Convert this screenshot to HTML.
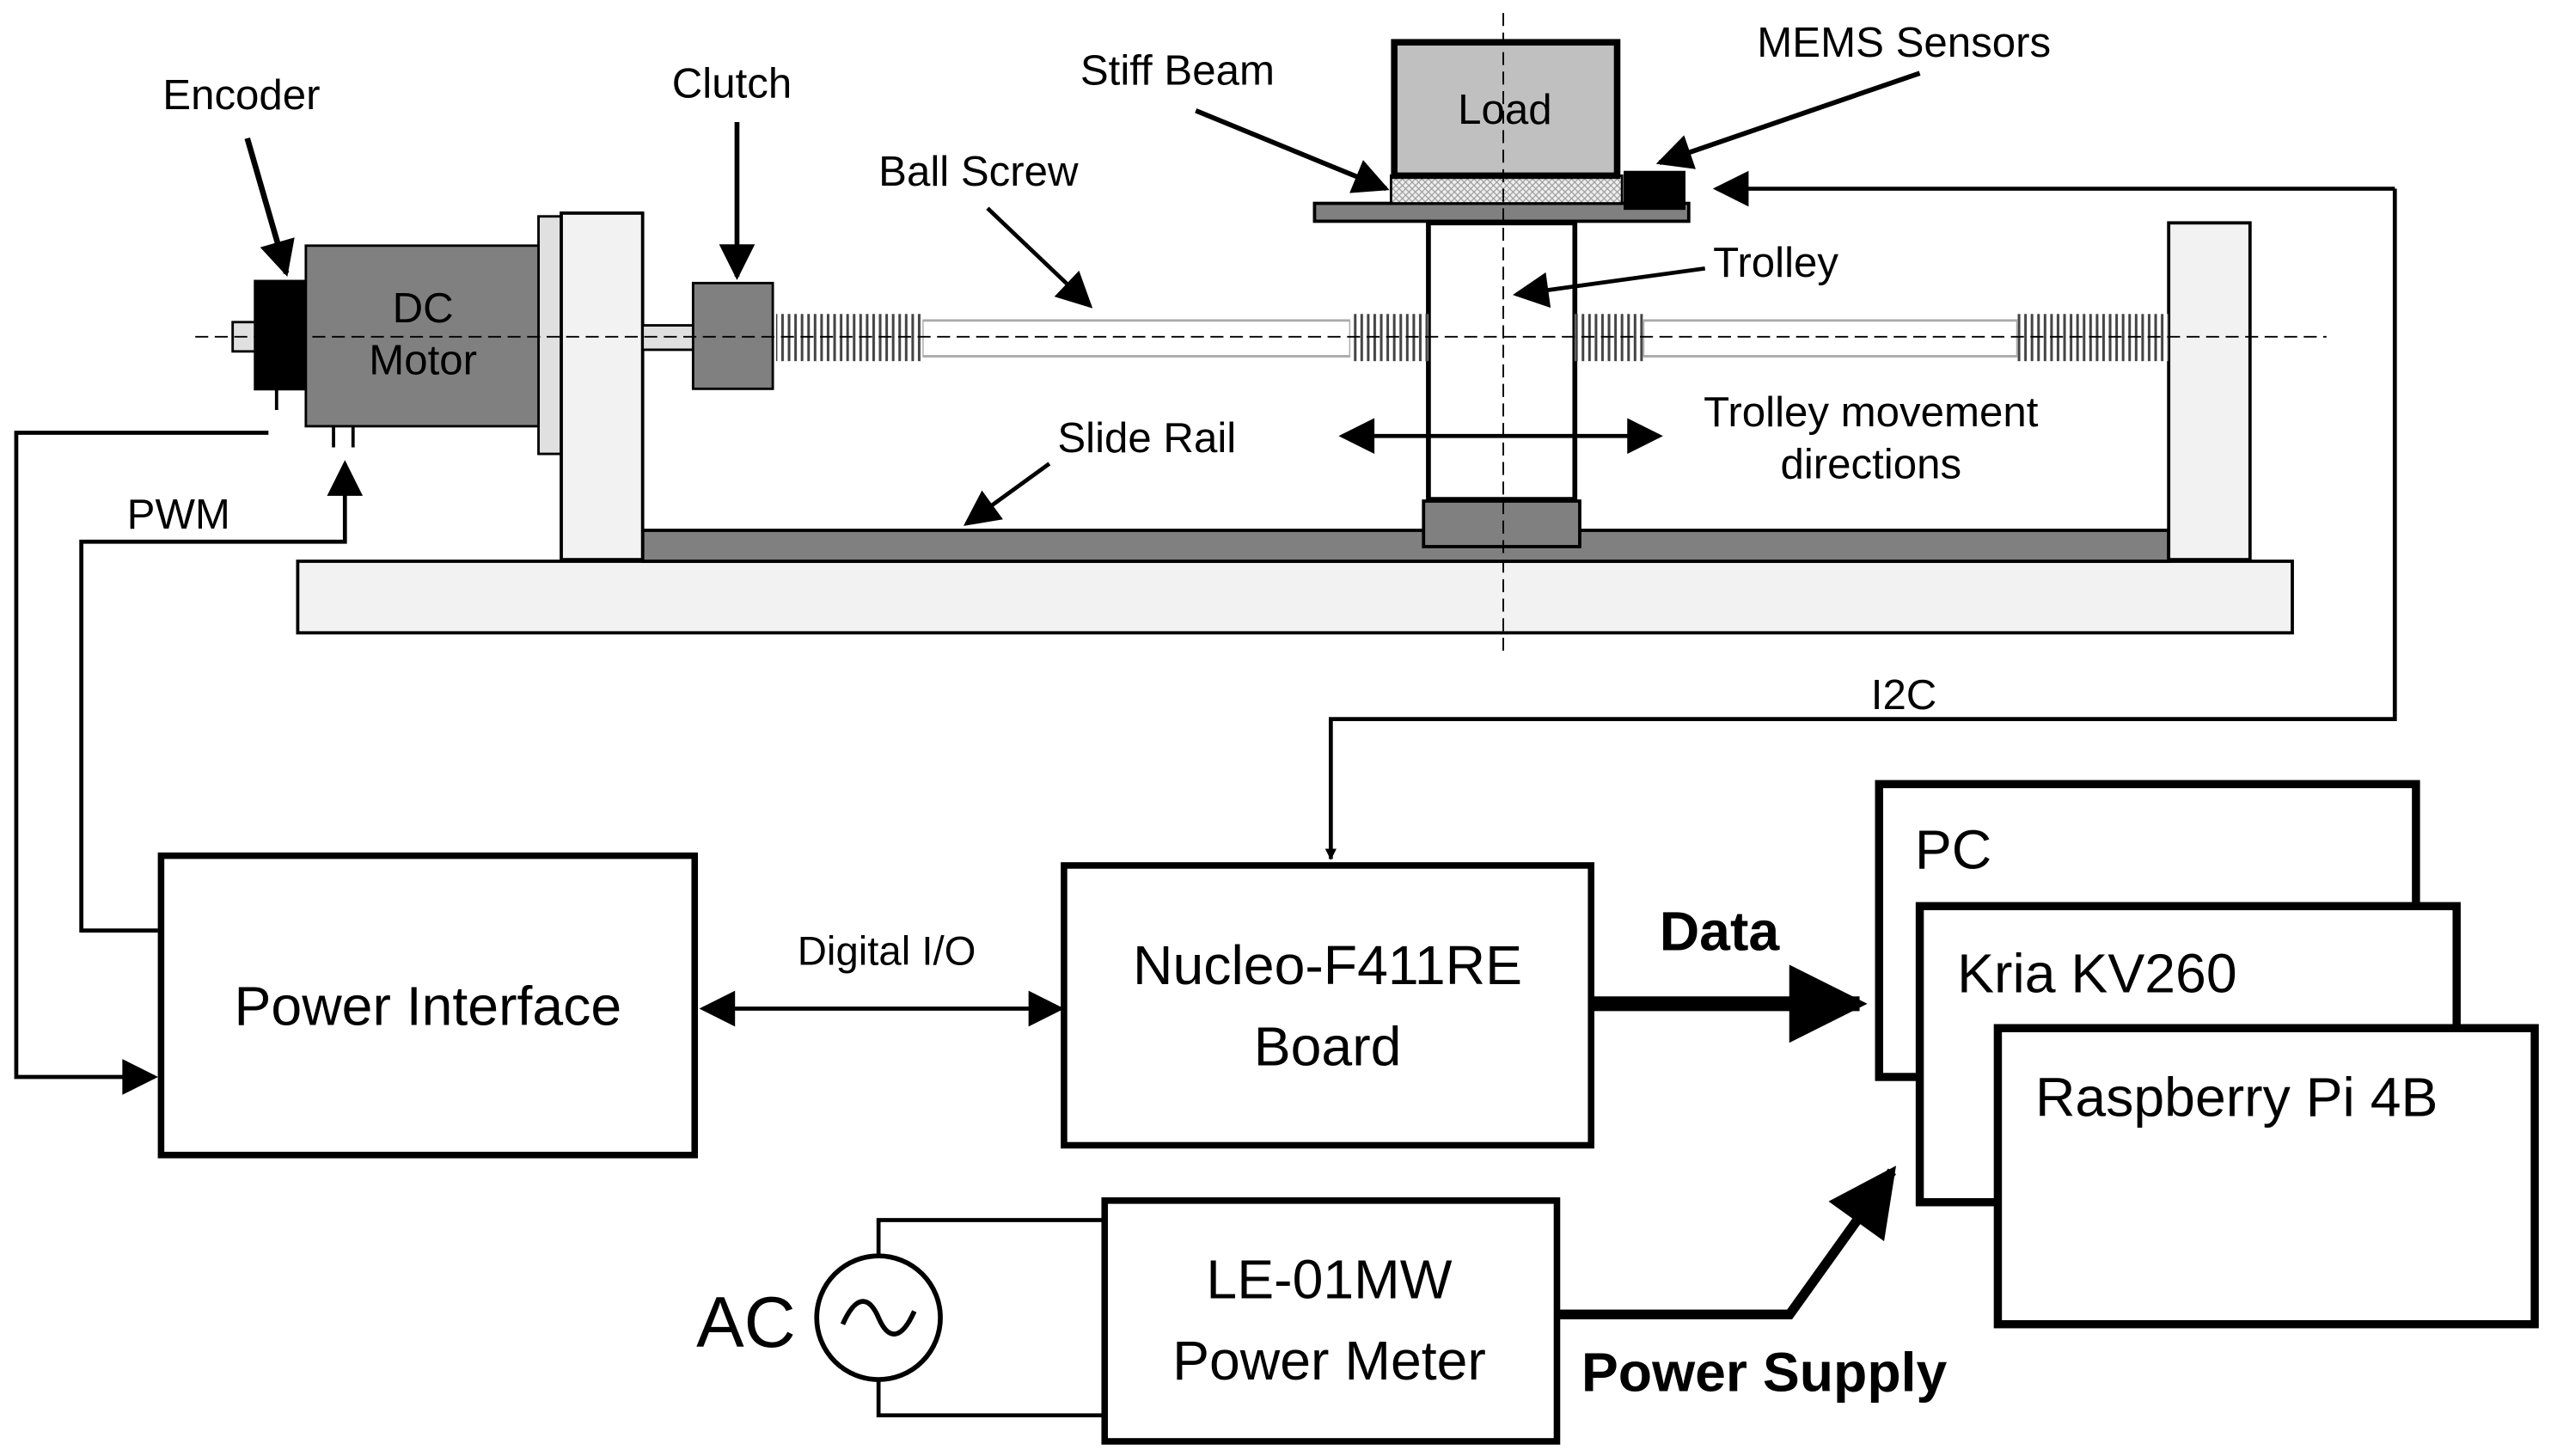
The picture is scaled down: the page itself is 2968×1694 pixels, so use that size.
<!DOCTYPE html>
<html><head><meta charset="utf-8"><style>html,body{margin:0;padding:0;background:#fff}svg{display:block}text{font-family:"Liberation Sans",sans-serif;fill:#000}</style></head>
<body>
<svg width="2968" height="1694" viewBox="0 0 1568 895" preserveAspectRatio="none" xmlns="http://www.w3.org/2000/svg">
<defs>
<marker id="a" viewBox="0 0 10 10" refX="9" refY="5" markerWidth="7" markerHeight="7" orient="auto-start-reverse" markerUnits="userSpaceOnUse"><path d="M0,0L10,5L0,10z"/></marker>
<marker id="b" viewBox="0 0 10 10" refX="9" refY="5" markerWidth="26" markerHeight="22" orient="auto-start-reverse" markerUnits="userSpaceOnUse"><path d="M0,0L10,5L0,10z"/></marker>
<marker id="c" viewBox="0 0 10 10" refX="9" refY="5" markerWidth="62" markerHeight="48" orient="auto" markerUnits="userSpaceOnUse"><path d="M0,0L10,5L0,10z"/></marker>
<marker id="d" viewBox="0 0 10 10" refX="9" refY="5" markerWidth="50" markerHeight="42" orient="auto" markerUnits="userSpaceOnUse"><path d="M0,0L10,5L0,10z"/></marker>
<pattern id="th" width="4" height="10" patternUnits="userSpaceOnUse"><rect width="4" height="10" fill="#fff"/><line x1="1" y1="0" x2="1" y2="10" stroke="#444" stroke-width="1.6"/></pattern>
<pattern id="hx" width="4" height="4" patternUnits="userSpaceOnUse"><rect width="4" height="4" fill="#eee"/><path d="M0,4L4,0M0,0L4,4" stroke="#999" stroke-width="0.6"/></pattern>
</defs>
<g stroke="#000" stroke-width="2">
<rect x="183" y="345" width="1226" height="44" fill="#f2f2f2"/>
<rect x="395" y="326" width="938" height="19" fill="#808080"/>
<rect x="331" y="133" width="16" height="146" fill="#e0e0e0" stroke-width="1.5"/>
<rect x="345" y="131" width="50" height="213" fill="#f2f2f2"/>
<rect x="1333" y="137" width="50" height="207" fill="#f2f2f2"/>
<rect x="878" y="137" width="90" height="170" fill="#fff" stroke-width="3"/>
<rect x="875" y="308" width="96" height="28" fill="#808080"/>
<rect x="808" y="125" width="230" height="11" fill="#808080"/>
<rect x="855" y="108" width="142" height="17" fill="url(#hx)" stroke-width="1.5"/>
<rect x="857" y="26" width="137" height="82" fill="#c0c0c0" stroke-width="4"/>
<rect x="999" y="106" width="36" height="22" fill="#000"/>
<rect x="567" y="197" width="263" height="22" fill="#fff" stroke="#aaa" stroke-width="1.5"/>
<rect x="1010" y="197" width="230" height="22" fill="#fff" stroke="#aaa" stroke-width="1.5"/>
<rect x="477" y="193" width="90" height="29" fill="url(#th)" stroke="none"/>
<rect x="830" y="193" width="48" height="29" fill="url(#th)" stroke="none"/>
<rect x="968" y="193" width="42" height="29" fill="url(#th)" stroke="none"/>
<rect x="1240" y="193" width="93" height="29" fill="url(#th)" stroke="none"/>
<rect x="395" y="200" width="32" height="15" fill="#e0e0e0" stroke-width="1.5"/>
<rect x="426" y="174" width="49" height="65" fill="#808080" stroke-width="1.5"/>
<rect x="188" y="151" width="143" height="111" fill="#808080" stroke-width="1.5"/>
<rect x="143" y="198" width="16" height="18" fill="#e0e0e0" stroke-width="1.5"/>
<rect x="157" y="173" width="30" height="66" fill="#000"/>
<path d="M170,239V252M205,262V275M217,262V275" fill="none"/>
</g>
<path d="M924,8V402M120,207H1430" stroke="#000" stroke-width="1" stroke-dasharray="8,4" fill="none"/>
<g fill="none" stroke="#000" stroke-width="2.5">
<path d="M165,266H10V662H95" marker-end="url(#b)"/>
<path d="M97,572H50V333H212V285" marker-end="url(#b)"/>
<path d="M1472,116V442H818V528" marker-end="url(#a)"/>
<path d="M1472,116H1055" marker-end="url(#b)"/>
<path d="M432,620H652" marker-start="url(#b)" marker-end="url(#b)"/>
<path d="M825,268H1020" marker-start="url(#b)" marker-end="url(#b)"/>
<path d="M152,85L176,168" stroke-width="3.5" marker-end="url(#b)"/>
<path d="M453,75V170" stroke-width="3" marker-end="url(#b)"/>
<path d="M607,128L670,188" marker-end="url(#b)"/>
<path d="M735,68L852,116" stroke-width="3" marker-end="url(#b)"/>
<path d="M1180,45L1020,100" stroke-width="3" marker-end="url(#b)"/>
<path d="M1048,165L932,181" marker-end="url(#b)"/>
<path d="M645,285L594,322" marker-end="url(#b)"/>
<path d="M980,617H1143" stroke-width="9" marker-end="url(#c)"/>
<path d="M957,808H1100L1163,720" stroke-width="6" marker-end="url(#d)"/>
<path d="M540,772V750H679M540,848V870H679"/>
</g>
<g stroke="#000" fill="#fff">
<rect x="99" y="526" width="328" height="184" stroke-width="4"/>
<rect x="654" y="532" width="324" height="172" stroke-width="4"/>
<rect x="679" y="738" width="278" height="148" stroke-width="4"/>
<rect x="1155" y="482" width="330" height="180" stroke-width="5"/>
<rect x="1180" y="557" width="330" height="182" stroke-width="5"/>
<rect x="1228" y="632" width="330" height="182" stroke-width="5"/>
<circle cx="540" cy="810" r="38" stroke-width="3"/>
</g>
<path d="M518,814C526,796 534,796 540,810C546,824 554,824 562,806" stroke="#000" stroke-width="3" fill="none"/>
<g font-size="26">
<text x="100" y="67">Encoder</text>
<text x="413" y="60">Clutch</text>
<text x="540" y="114">Ball Screw</text>
<text x="664" y="52">Stiff Beam</text>
<text x="1080" y="35">MEMS Sensors</text>
<text x="925" y="76" text-anchor="middle">Load</text>
<text x="1053" y="170">Trolley</text>
<text x="650" y="278">Slide Rail</text>
<text x="1150" y="262" text-anchor="middle">Trolley movement</text>
<text x="1150" y="294" text-anchor="middle">directions</text>
<text x="260" y="198" text-anchor="middle">DC</text>
<text x="260" y="230" text-anchor="middle">Motor</text>
<text x="78" y="325">PWM</text>
<text x="1150" y="436">I2C</text>
<text x="545" y="593" text-anchor="middle" font-size="25">Digital I/O</text>
</g>
<g font-size="34">
<text x="263" y="630" text-anchor="middle">Power Interface</text>
<text x="816" y="605" text-anchor="middle">Nucleo-F411RE</text>
<text x="816" y="655" text-anchor="middle">Board</text>
<text x="817" y="798" text-anchor="middle">LE-01MW</text>
<text x="817" y="848" text-anchor="middle">Power Meter</text>
<text x="1177" y="534">PC</text>
<text x="1203" y="610">Kria KV260</text>
<text x="1251" y="686">Raspberry Pi 4B</text>
<text x="428" y="828" font-size="44">AC</text>
<text x="1020" y="584" font-weight="bold">Data</text>
<text x="972" y="855" font-weight="bold">Power Supply</text>
</g>
</svg>
</body></html>
